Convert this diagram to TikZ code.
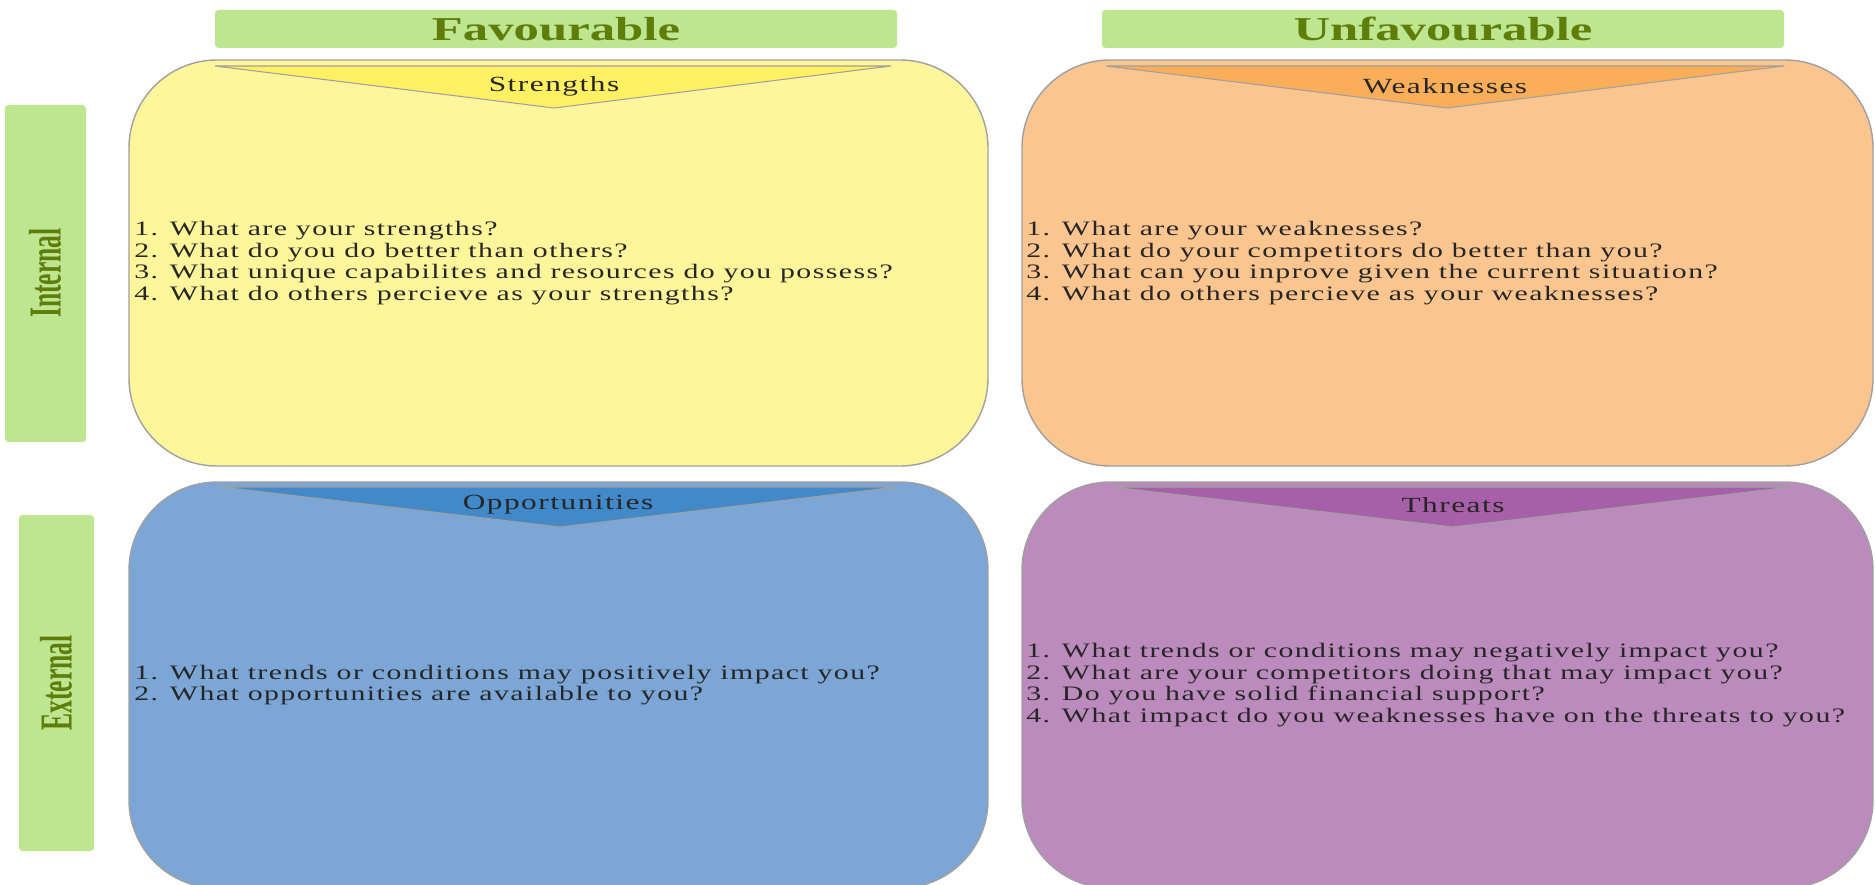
\documentclass[tikz,border=0pt]{standalone}
\usepackage{fontspec}
\setmainfont{Liberation Serif}
\newfontfamily\bodyfont[FakeStretch=1.45,LetterSpace=7]{Liberation Serif}
\newfontfamily\headfont[FakeStretch=1.52]{Liberation Serif}
\newfontfamily\sidefont[FakeStretch=0.56]{Liberation Serif}

\definecolor{hdrgreen}{RGB}{190,229,144}
\definecolor{hdrtext}{RGB}{95,125,10}
\definecolor{strbg}{RGB}{255,245,155}
\definecolor{strtop}{RGB}{255,240,100}
\definecolor{weakbg}{RGB}{251,197,143}
\definecolor{weaktop}{RGB}{250,174,90}
\definecolor{oppbg}{RGB}{123,166,214}
\definecolor{opptop}{RGB}{66,137,202}
\definecolor{thrbg}{RGB}{188,139,189}
\definecolor{thrtop}{RGB}{166,95,168}
\definecolor{edgegray}{RGB}{160,160,160}

\begin{document}
\begin{tikzpicture}[x=0.02cm, y=-0.02cm,
  hdr/.style={fill=hdrgreen, rounded corners=2pt},
  quad/.style={draw=edgegray, line width=0.8pt, rounded corners=1.76cm},
  banner/.style={draw=edgegray, line width=0.6pt},
  hdrtxt/.style={text=hdrtext, font=\headfont\bfseries\fontsize{19}{22}\selectfont},
  sidetxt/.style={text=hdrtext, rotate=90, font=\sidefont\bfseries\fontsize{26}{30}\selectfont},
  qtitle/.style={text=black!85, font=\bodyfont\fontsize{12.3}{14}\selectfont},
  qlist/.style={anchor=west, align=left, inner sep=0pt, text=black!85,
    font=\bodyfont\fontsize{11.7}{12.4}\selectfont}]
\useasboundingbox (0,0) rectangle (1875,885);

% column and row headers
\fill[hdr] (215,10) rectangle (897,48);
\fill[hdr] (1102,10) rectangle (1784,48);
\fill[hdr] (5,105) rectangle (86,442);
\fill[hdr] (19,515) rectangle (94,851);
\node[hdrtxt] (fav) at (556,29) {Favourable};
\node[hdrtxt] (unfav) at (1443,29) {Unfavourable};
\node[sidetxt] (int) at (45,273) {Internal};
\node[sidetxt] (ext) at (56,683) {External};

% the four quadrants
\draw[quad, fill=strbg] (129,60) rectangle (988,466);
\draw[quad, fill=weakbg] (1022,60) rectangle (1873,466);
\draw[quad, fill=oppbg] (129,482) rectangle (988,888);
\draw[quad, fill=thrbg] (1022,482) rectangle (1873,888);

\draw[banner, fill=strtop] (215,66) -- (891,66) -- (554,108) -- cycle;
\draw[banner, fill=weaktop] (1106,66) -- (1784,66) -- (1447,108) -- cycle;
\draw[banner, fill=opptop] (221,487) -- (897,487) -- (560,527) -- cycle;
\draw[banner, fill=thrtop] (1112,487) -- (1790,487) -- (1453,527) -- cycle;

\node[qtitle] (str) at (554,86) {Strengths};
\node[qtitle] (weak) at (1445,86) {Weaknesses};
\node[qtitle] (opp) at (558,505) {Opportunities};
\node[qtitle] (thr) at (1453,505) {Threats};

\node[qlist] (strq) at (134,263) {1. What are your strengths?\\
  2. What do you do better than others?\\
  3. What unique capabilites and resources do you possess?\\
  4. What do others percieve as your strengths?};
\node[qlist] (weakq) at (1026,263) {1. What are your weaknesses?\\
  2. What do your competitors do better than you?\\
  3. What can you inprove given the current situation?\\
  4. What do others percieve as your weaknesses?};
\node[qlist] (oppq) at (134,685) {1. What trends or conditions may positively impact you?\\
  2. What opportunities are available to you?};
\node[qlist] (thrq) at (1026,685) {1. What trends or conditions may negatively impact you?\\
  2. What are your competitors doing that may impact you?\\
  3. Do you have solid financial support?\\
  4. What impact do you weaknesses have on the threats to you?};
\end{tikzpicture}
\end{document}
